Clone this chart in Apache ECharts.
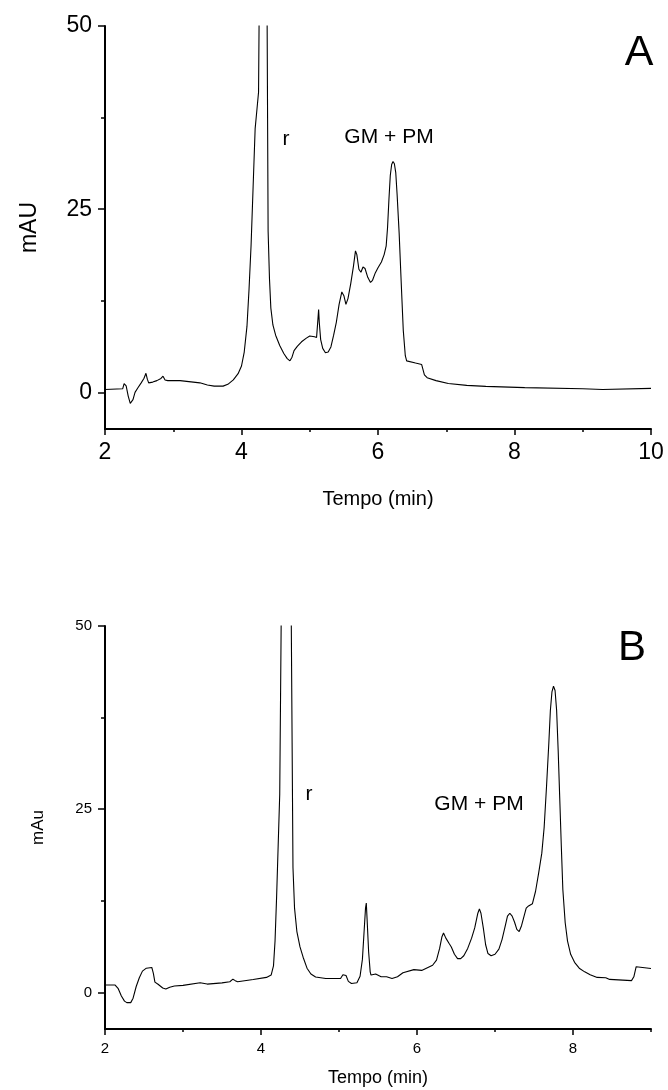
<!DOCTYPE html>
<html>
<head>
<meta charset="utf-8">
<script src="https://cdn.jsdelivr.net/npm/echarts@6/dist/echarts.min.js"></script>
<style>
html,body{margin:0;padding:0;background:#fff;}
#c{width:668px;height:1090px;}
</style>
</head>
<body>
<div id="c"></div>
<script>
// ---- Data (time in min, absorbance in mAU) ----
const traceA = [[2.00,0.4],[2.26,0.5],[2.28,1.2],[2.29,1.4],[2.31,0.9],[2.34,-0.5],[2.37,-1.5],[2.39,-1.7],[2.41,-1.0],[2.44,0.0],[2.48,0.6],[2.53,1.3],[2.57,1.9],[2.60,2.6],[2.62,1.8],[2.64,1.3],[2.70,1.4],[2.76,1.6],[2.82,1.9],[2.85,2.2],[2.88,1.7],[2.92,1.6],[3.10,1.6],[3.39,1.3],[3.50,1.0],[3.60,0.85],[3.73,0.85],[3.80,1.1],[3.88,1.7],[3.95,2.55],[4.00,3.6],[4.04,5.5],[4.08,9],[4.11,14],[4.14,20],[4.17,28],[4.20,36],[4.22,38],[4.25,41],[4.33,140],[4.39,22],[4.41,15.5],[4.43,11.5],[4.46,9.2],[4.50,7.8],[4.56,6.4],[4.62,5.3],[4.67,4.6],[4.71,4.3],[4.74,4.8],[4.77,5.7],[4.82,6.3],[4.88,6.9],[4.95,7.4],[5.00,7.7],[5.07,7.6],[5.10,7.5],[5.12,10],[5.13,11.3],[5.14,9.5],[5.16,7.2],[5.19,6.0],[5.23,5.4],[5.27,5.5],[5.31,6.2],[5.35,7.8],[5.39,9.6],[5.43,12],[5.47,13.7],[5.50,13.2],[5.53,12.0],[5.56,12.8],[5.60,14.8],[5.64,17.2],[5.67,19.3],[5.69,18.8],[5.72,16.8],[5.75,16.4],[5.78,17.1],[5.81,16.9],[5.85,15.7],[5.89,15.0],[5.92,15.3],[5.96,16.3],[6.00,17.0],[6.05,17.8],[6.09,18.8],[6.12,20.0],[6.14,22.5],[6.16,26.3],[6.18,29.6],[6.20,31.1],[6.22,31.5],[6.24,31.2],[6.26,30.0],[6.28,27.0],[6.31,21.7],[6.34,15],[6.37,8.5],[6.40,5.0],[6.42,4.3],[6.55,4.0],[6.64,3.8],[6.66,3.6],[6.68,2.4],[6.72,2.0],[6.85,1.6],[7.03,1.2],[7.30,0.95],[7.58,0.82],[8.15,0.64],[9.00,0.5],[9.29,0.4],[10.00,0.55]];
const traceB = [[2.00,1.0],[2.13,1.0],[2.17,0.5],[2.21,-0.5],[2.25,-1.2],[2.28,-1.4],[2.33,-1.4],[2.36,-0.8],[2.40,0.8],[2.44,2.0],[2.48,2.9],[2.53,3.3],[2.60,3.4],[2.62,2.6],[2.64,1.4],[2.68,1.1],[2.74,0.6],[2.78,0.45],[2.83,0.7],[2.89,0.86],[3.00,0.95],[3.22,1.31],[3.31,1.13],[3.50,1.3],[3.60,1.45],[3.64,1.8],[3.67,1.6],[3.70,1.45],[3.90,1.75],[4.07,2.04],[4.13,2.36],[4.16,3.6],[4.18,7],[4.20,13],[4.22,20],[4.24,27],[4.33,140],[4.41,17],[4.43,11.5],[4.46,8.3],[4.50,6.2],[4.54,4.8],[4.59,3.3],[4.64,2.5],[4.70,2.1],[4.83,1.9],[5.02,1.9],[5.05,2.4],[5.07,2.6],[5.09,2.3],[5.12,1.5],[5.16,1.2],[5.23,1.31],[5.27,2.2],[5.30,4.5],[5.32,8],[5.34,11.5],[5.35,12.2],[5.36,10],[5.38,5.5],[5.40,2.8],[5.41,2.36],[5.47,2.5],[5.54,2.13],[5.61,2.13],[5.68,1.9],[5.75,2.13],[5.82,2.67],[5.96,3.1],[6.06,3.0],[6.20,3.7],[6.25,4.4],[6.29,6.0],[6.32,7.6],[6.34,8.1],[6.37,7.4],[6.41,6.7],[6.44,6.2],[6.48,5.2],[6.52,4.6],[6.56,4.6],[6.60,5.0],[6.65,6.0],[6.70,7.4],[6.74,8.8],[6.78,10.8],[6.80,11.4],[6.82,10.8],[6.85,8.8],[6.88,6.5],[6.91,5.3],[6.95,5.0],[7.00,5.2],[7.05,5.9],[7.09,7.2],[7.13,9.0],[7.16,10.4],[7.19,10.8],[7.22,10.4],[7.25,9.6],[7.28,8.6],[7.31,8.3],[7.34,9.1],[7.37,10.3],[7.40,11.5],[7.43,11.8],[7.48,12.1],[7.52,13.8],[7.56,16.3],[7.60,19.0],[7.63,22.5],[7.66,28],[7.69,34],[7.71,38.5],[7.73,41],[7.75,41.8],[7.77,41.2],[7.79,38.5],[7.81,33],[7.83,26.5],[7.85,20],[7.87,14],[7.90,9.5],[7.93,7],[7.97,5.2],[8.02,4.1],[8.08,3.3],[8.15,2.8],[8.22,2.4],[8.31,2.04],[8.42,2.0],[8.47,1.77],[8.75,1.6],[8.78,2.13],[8.81,3.5],[9.00,3.26]];

const xMajorA = [2, 4, 6, 8, 10];
const xMinorA = [3, 5, 7, 9];
const xMajorB = [2, 4, 6, 8];
const xMinorB = [3, 5, 7, 9];
const yMajor = [0, 25, 50];
const yMinor = [12.5, 37.5];

const FONT = 'Liberation Sans, Arial, sans-serif';
const chart = echarts.init(document.getElementById('c'), null, {renderer: 'canvas'});

function xAxes(gridIndex, max, major, minor, fs, name, nameGap, nameFs) {
  return [
    {
      type: 'value', gridIndex, min: 2, max, position: 'bottom',
      name, nameLocation: 'middle', nameGap,
      nameTextStyle: {fontFamily: FONT, fontSize: nameFs, color: '#000'},
      axisLine: {show: true, onZero: false, lineStyle: {color: '#000', width: 2}},
      axisTick: {show: true, length: 6, customValues: major, lineStyle: {color: '#000', width: 1.5}},
      axisLabel: {show: true, customValues: major, margin: 12, fontFamily: FONT, fontSize: fs, color: '#000'},
      splitLine: {show: false}
    },
    {
      type: 'value', gridIndex, min: 2, max, position: 'bottom',
      axisLine: {show: false, onZero: false},
      axisTick: {show: true, length: 3, customValues: minor, lineStyle: {color: '#000', width: 1.5}},
      axisLabel: {show: false},
      splitLine: {show: false}
    }
  ];
}
function yAxes(gridIndex, fs, name, nameGap, nameFs) {
  return [
    {
      type: 'value', gridIndex, min: -5, max: 50, position: 'left',
      name, nameLocation: 'middle', nameGap, nameRotate: 90,
      nameTextStyle: {fontFamily: FONT, fontSize: nameFs, color: '#000'},
      axisLine: {show: true, onZero: false, lineStyle: {color: '#000', width: 2}},
      axisTick: {show: true, length: 7, customValues: yMajor, lineStyle: {color: '#000', width: 1.5}},
      axisLabel: {show: true, customValues: yMajor, margin: 13, fontFamily: FONT, fontSize: fs, color: '#000'},
      splitLine: {show: false}
    },
    {
      type: 'value', gridIndex, min: -5, max: 50, position: 'left',
      axisLine: {show: false, onZero: false},
      axisTick: {show: true, length: 4, customValues: yMinor, lineStyle: {color: '#000', width: 1.5}},
      axisLabel: {show: false},
      splitLine: {show: false}
    }
  ];
}

const option = {
  backgroundColor: '#fff',
  animation: false,
  grid: [
    {left: 105, right: 17, top: 26, height: 403},
    {left: 105, right: 17, top: 626, height: 403}
  ],
  xAxis: [
    ...xAxes(0, 10, xMajorA, xMinorA, 23, 'Tempo (min)', 60, 20),
    ...xAxes(1, 9, xMajorB, xMinorB, 15, 'Tempo (min)', 40, 18)
  ],
  yAxis: [
    ...yAxes(0, 23, 'mAU', 64, 23),
    ...yAxes(1, 15, 'mAu', 58, 17)
  ],
  series: [
    {
      type: 'line', xAxisIndex: 0, yAxisIndex: 0, data: traceA,
      showSymbol: false, clip: true,
      lineStyle: {color: '#000', width: 1.1}
    },
    {
      type: 'line', xAxisIndex: 2, yAxisIndex: 2, data: traceB,
      showSymbol: false, clip: true,
      lineStyle: {color: '#000', width: 1.1}
    }
  ],
  graphic: [
    {type: 'text', x: 639, y: 53, style: {text: 'A', font: '43px ' + FONT, fill: '#000', textAlign: 'center', textVerticalAlign: 'middle'}},
    {type: 'text', x: 286, y: 139, style: {text: 'r', font: '21px ' + FONT, fill: '#000', textAlign: 'center', textVerticalAlign: 'middle'}},
    {type: 'text', x: 389, y: 137, style: {text: 'GM + PM', font: '21px ' + FONT, fill: '#000', textAlign: 'center', textVerticalAlign: 'middle'}},
    {type: 'text', x: 632, y: 648, style: {text: 'B', font: '42px ' + FONT, fill: '#000', textAlign: 'center', textVerticalAlign: 'middle'}},
    {type: 'text', x: 309, y: 794, style: {text: 'r', font: '21px ' + FONT, fill: '#000', textAlign: 'center', textVerticalAlign: 'middle'}},
    {type: 'text', x: 479, y: 804, style: {text: 'GM + PM', font: '21px ' + FONT, fill: '#000', textAlign: 'center', textVerticalAlign: 'middle'}}
  ]
};
chart.setOption(option);
</script>
</body>
</html>
